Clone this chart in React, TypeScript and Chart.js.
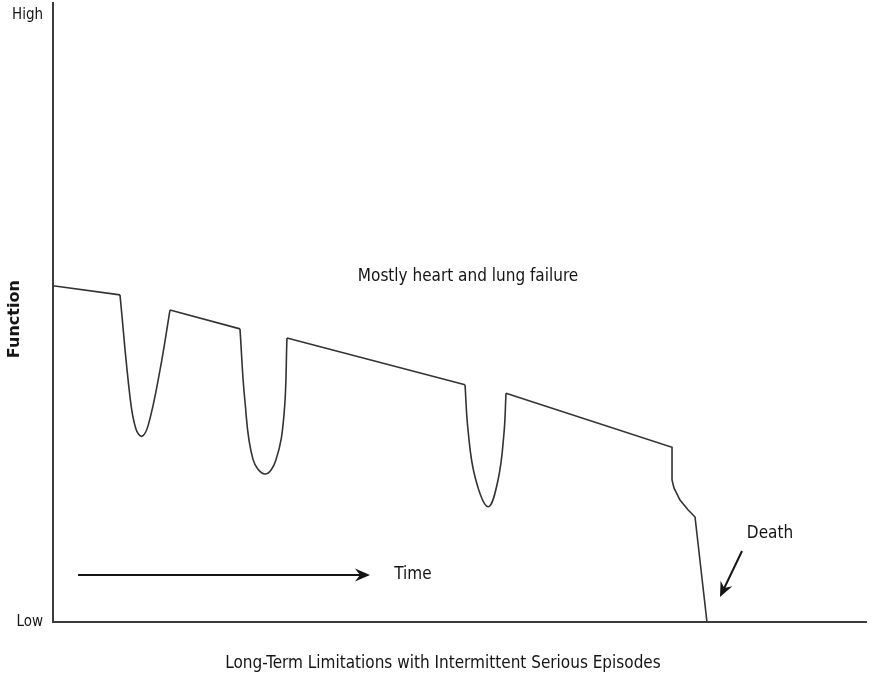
import React, { useEffect, useRef } from "react";
import { Chart, registerables } from "chart.js";

Chart.register(...registerables);

// ---- data (x: time 0..100, y: function 0=Low .. 100=High) ----
const yTickValues = [0, 100];
const yTickLabels = ["Low", "High"];

const trendX = [0, 8.24, 11, 14.39, 23.0, 26, 28.78, 50.68, 53, 55.72, 76.14, 76.14, 76.38, 77.12, 78.1, 78.97, 80.44];
const trendY = [55.4, 53.9, null, 51.4, 48.3, null, 46.8, 39.1, null, 37.7, 28.8, 23.4, 22.1, 20.1, 18.5, 17.3, 0];

const dip1X = [8.24, 9.47, 10.2, 10.95, 11.75, 13.16, 14.39];
const dip1Y = [53.9, 37.1, 31.8, 30.6, 32.6, 41.5, 51.4];

const dip2X = [23.0, 23.6, 24.6, 26.08, 27.4, 28.41, 28.78];
const dip2Y = [48.3, 36.5, 26.8, 24.4, 26.6, 34.1, 46.8];

const dip3X = [50.68, 51.05, 51.91, 53.51, 54.74, 55.47, 55.72];
const dip3Y = [39.1, 31.6, 23.9, 19.0, 23.4, 31.1, 37.7];

const xTitle = "Long-Term Limitations with Intermittent Serious Episodes";
const yTitle = "Function";
const noteText = "Mostly heart and lung failure";
const timeText = "Time";
const deathText = "Death";

const FONT = "'Liberation Sans Narrow', 'DejaVu Sans Condensed', sans-serif";
const LINE = "#333333";
const AXIS = "#3c3c3c";
const TEXT = "#151515";

const pts = (xs: number[], ys: (number | null)[]) => xs.map((x, i) => ({ x, y: ys[i] }));

const arrow = (ctx: CanvasRenderingContext2D, x1: number, y1: number, x2: number, y2: number) => {
  const ang = Math.atan2(y2 - y1, x2 - x1);
  const L = 15, W = 6.5;
  ctx.save();
  ctx.strokeStyle = TEXT;
  ctx.fillStyle = TEXT;
  ctx.lineWidth = 2;
  ctx.beginPath();
  ctx.moveTo(x1, y1);
  ctx.lineTo(x2 - Math.cos(ang) * 8, y2 - Math.sin(ang) * 8);
  ctx.stroke();
  ctx.translate(x2, y2);
  ctx.rotate(ang);
  ctx.beginPath();
  ctx.moveTo(0, 0);
  ctx.lineTo(-L, -W);
  ctx.lineTo(-L + 5, 0);
  ctx.lineTo(-L, W);
  ctx.closePath();
  ctx.fill();
  ctx.restore();
};

const annotPlugin = {
  id: "annot",
  afterDraw(chart: any) {
    const { ctx, scales, chartArea } = chart;
    const x = scales.x, y = scales.y;
    ctx.save();
    ctx.fillStyle = TEXT;
    ctx.textAlign = "center";
    ctx.textBaseline = "middle";
    ctx.font = `17px ${FONT}`;
    ctx.fillText(noteText, x.getPixelForValue(51.05), y.getPixelForValue(57.0));
    ctx.fillText(timeText, x.getPixelForValue(44.28), y.getPixelForValue(7.74));
    ctx.fillText(deathText, x.getPixelForValue(88.19), y.getPixelForValue(14.5));
    ctx.fillText(xTitle, x.getPixelForValue(47.97), chartArea.bottom + 42);
    arrow(ctx, x.getPixelForValue(3.08), y.getPixelForValue(7.74), x.getPixelForValue(38.99), y.getPixelForValue(7.74));
    arrow(ctx, x.getPixelForValue(84.75), y.getPixelForValue(11.7), x.getPixelForValue(82.04), y.getPixelForValue(4.12));
    ctx.translate(15, y.getPixelForValue(49.9));
    ctx.rotate(-Math.PI / 2);
    ctx.font = `bold 16px 'DejaVu Sans', sans-serif`;
    ctx.fillText(yTitle, 0, 0);
    ctx.restore();
  },
};

export default function App() {
  const ref = useRef<HTMLCanvasElement>(null);
  useEffect(() => {
    document.body.style.margin = "0";
    const lineDs = (data: any[], tension: number) => ({
      data,
      borderColor: LINE,
      borderWidth: 1.6,
      pointRadius: 0,
      fill: false,
      spanGaps: false,
      tension,
    });
    const chart = new Chart(ref.current as HTMLCanvasElement, {
      type: "line",
      data: {
        datasets: [
          lineDs(pts(trendX, trendY), 0),
          lineDs(pts(dip1X, dip1Y), 0.4),
          lineDs(pts(dip2X, dip2Y), 0.4),
          lineDs(pts(dip3X, dip3Y), 0.4),
        ] as any,
      },
      options: {
        animation: false,
        responsive: false,
        maintainAspectRatio: false,
        layout: { padding: { top: 3, right: 6, left: 0, bottom: 0 } },
        plugins: { legend: { display: false }, tooltip: { enabled: false } },
        scales: {
          x: {
            type: "linear",
            min: 0,
            max: 100,
            grid: { display: false },
            ticks: { display: false },
            border: { display: true, color: AXIS, width: 2 },
            afterFit: (s: any) => { s.height = 67; s.paddingLeft = 0; s.paddingRight = 0; },
          },
          y: {
            type: "linear",
            min: 0,
            max: 102,
            grid: { display: false, drawTicks: false },
            border: { display: true, color: AXIS, width: 2 },
            ticks: {
              padding: 10,
              color: TEXT,
              font: { family: FONT, size: 15 },
              callback: (v: any) => yTickLabels[yTickValues.indexOf(Number(v))] ?? "",
            },
            afterBuildTicks: (s: any) => { s.ticks = yTickValues.map((v) => ({ value: v })); },
            afterFit: (s: any) => { s.width = 53; s.paddingTop = 0; s.paddingBottom = 0; },
          },
        },
      } as any,
      plugins: [annotPlugin],
    });
    return () => chart.destroy();
  }, []);
  return <canvas ref={ref} width={872} height={689} style={{ display: "block" }} />;
}
